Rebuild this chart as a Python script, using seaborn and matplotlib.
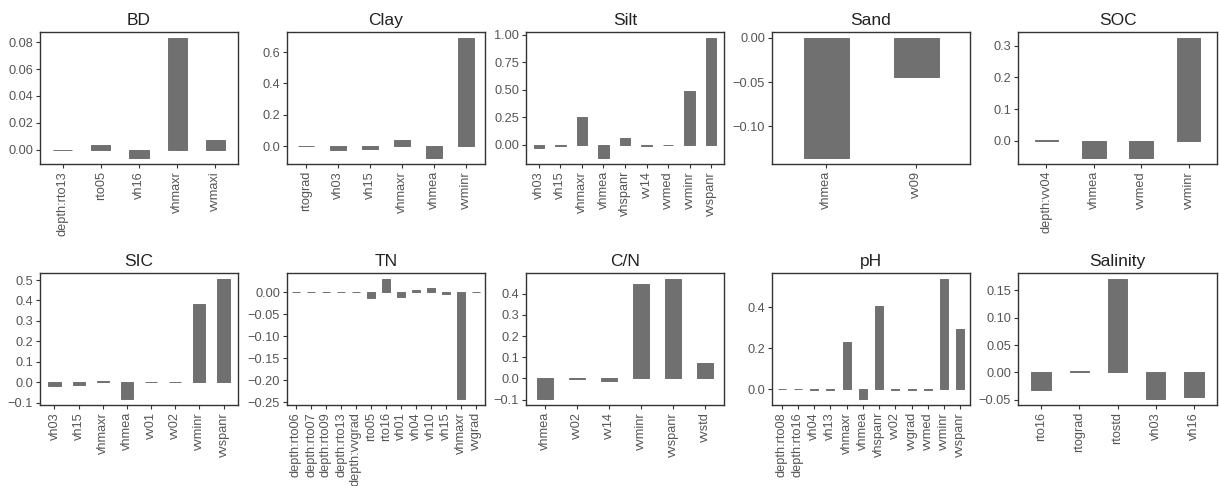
import matplotlib
matplotlib.use("Agg")
import matplotlib.pyplot as plt
import seaborn as sns
import pandas as pd
import numpy as np

sns.set_theme(style="white")
plt.rcParams['font.family'] = ['Liberation Sans', 'DejaVu Sans']

# ---- data ----
bd_vars = ["depth:rto13", "rto05", "vh16", "vhmaxr", "vvmaxi"]
bd_vals = [0.0003, 0.0035, -0.006, 0.083, 0.007]

clay_vars = ["rtograd", "vh03", "vh15", "vhmaxr", "vhmea", "vvminr"]
clay_vals = [0.001, -0.022, -0.016, 0.040, -0.075, 0.690]

silt_vars = ["vh03", "vh15", "vhmaxr", "vhmea", "vhspanr", "vv14", "vvmed", "vvminr", "vvspanr"]
silt_vals = [-0.03, -0.015, 0.25, -0.12, 0.065, -0.015, -0.004, 0.49, 0.97]

sand_vars = ["vhmea", "vv09"]
sand_vals = [-0.136, -0.044]

soc_vars = ["depth:vv04", "vhmea", "vvmed", "vvminr"]
soc_vals = [0.0005, -0.055, -0.055, 0.325]

sic_vars = ["vh03", "vh15", "vhmaxr", "vhmea", "vv01", "vv02", "vvminr", "vvspanr"]
sic_vals = [-0.018, -0.013, 0.007, -0.082, -0.001, -0.001, 0.385, 0.505]

tn_vars = ["depth:rto06", "depth:rto07", "depth:rto09", "depth:rto13", "depth:vvgrad",
           "rto05", "rto16", "vh01", "vh04", "vh10", "vh15", "vhmaxr", "vvgrad"]
tn_vals = [0.0, 0.0, 0.0, 0.0, 0.0, -0.013, 0.030, -0.011, 0.006, 0.009, -0.003, -0.243, 0.0]

cn_vars = ["vhmea", "vv02", "vv14", "vvminr", "vvspanr", "vvstd"]
cn_vals = [-0.097, -0.001, -0.012, 0.447, 0.470, 0.075]

ph_vars = ["depth:rto08", "depth:rto16", "vh04", "vh13", "vhmaxr", "vhmea", "vhspanr",
           "vv02", "vvgrad", "vvmed", "vvminr", "vvspanr"]
ph_vals = [0.0, 0.0, -0.005, -0.002, 0.232, -0.048, 0.405, -0.006, -0.002, -0.002, 0.537, 0.295]

sal_vars = ["rto16", "rtograd", "rtostd", "vh03", "vh16"]
sal_vals = [-0.033, 0.003, 0.171, -0.049, -0.045]

titles = ["BD", "Clay", "Silt", "Sand", "SOC", "SIC", "TN", "C/N", "pH", "Salinity"]

bd_ticks = [0.0, 0.02, 0.04, 0.06, 0.08]
clay_ticks = [0.0, 0.2, 0.4, 0.6]
silt_ticks = [0.0, 0.25, 0.5, 0.75, 1.0]
sand_ticks = [-0.10, -0.05, 0.0]
soc_ticks = [0.0, 0.1, 0.2, 0.3]
sic_ticks = [-0.1, 0.0, 0.1, 0.2, 0.3, 0.4, 0.5]
tn_ticks = [-0.25, -0.20, -0.15, -0.10, -0.05, 0.0]
cn_ticks = [-0.1, 0.0, 0.1, 0.2, 0.3, 0.4]
ph_ticks = [0.0, 0.2, 0.4]
sal_ticks = [-0.05, 0.0, 0.05, 0.10, 0.15]
tick_decimals = [2, 1, 2, 2, 1, 1, 2, 1, 1, 2]

panels = [
    (bd_vars, bd_vals, bd_ticks), (clay_vars, clay_vals, clay_ticks),
    (silt_vars, silt_vals, silt_ticks), (sand_vars, sand_vals, sand_ticks),
    (soc_vars, soc_vals, soc_ticks), (sic_vars, sic_vals, sic_ticks),
    (tn_vars, tn_vals, tn_ticks), (cn_vars, cn_vals, cn_ticks),
    (ph_vars, ph_vals, ph_ticks), (sal_vars, sal_vals, sal_ticks),
]

W, H = 1219, 486
fig = plt.figure(figsize=(W / 100, H / 100), dpi=100)

col_left = [40, 287, 526, 772, 1018]
col_right = [238, 485, 724, 970, 1217]
row_top = [32, 273]
row_bot = [164, 405]

bar_color = "#707070"
txt_color = "#555555"
frame_color = "#333333"

for i, (vars_, vals, ticks) in enumerate(panels):
    r, c = divmod(i, 5)
    x0, x1 = col_left[c], col_right[c]
    y0, y1 = row_top[r], row_bot[r]
    ax = fig.add_axes([x0 / W, 1 - y1 / H, (x1 - x0) / W, (y1 - y0) / H])
    df = pd.DataFrame({"var": vars_, "val": vals})
    sns.barplot(data=df, x="var", y="val", ax=ax, color=bar_color, width=0.5,
                saturation=1, edgecolor=bar_color, linewidth=0.7)
    n = len(vars_)
    ax.set_xlim(-0.6, n - 0.4)
    lo = min(0.0, min(vals))
    hi = max(0.0, max(vals))
    pad = (hi - lo) * 0.05
    ax.set_ylim(lo - pad, hi + pad)
    ax.set_yticks(ticks)
    d = tick_decimals[i]
    ax.set_yticklabels([f"{t:.{d}f}".replace("-", "\u2212") for t in ticks])
    ax.set_xticks(range(n))
    ax.set_xticklabels(vars_, rotation=90, ha="center", va="top")
    ax.set_xlabel("")
    ax.set_ylabel("")
    ax.set_title(titles[i], fontsize=12.5, color="#222222", pad=5)
    ax.tick_params(axis="both", which="major", direction="out", length=3, width=0.8,
                   color=frame_color, labelcolor=txt_color, labelsize=9.2, pad=2,
                   bottom=True, left=True)
    for s in ax.spines.values():
        s.set_visible(True)
        s.set_color(frame_color)
        s.set_linewidth(1.0)
    ax.grid(False)
    ax.set_facecolor("white")

fig.savefig("out.png", dpi=100, facecolor="white")
